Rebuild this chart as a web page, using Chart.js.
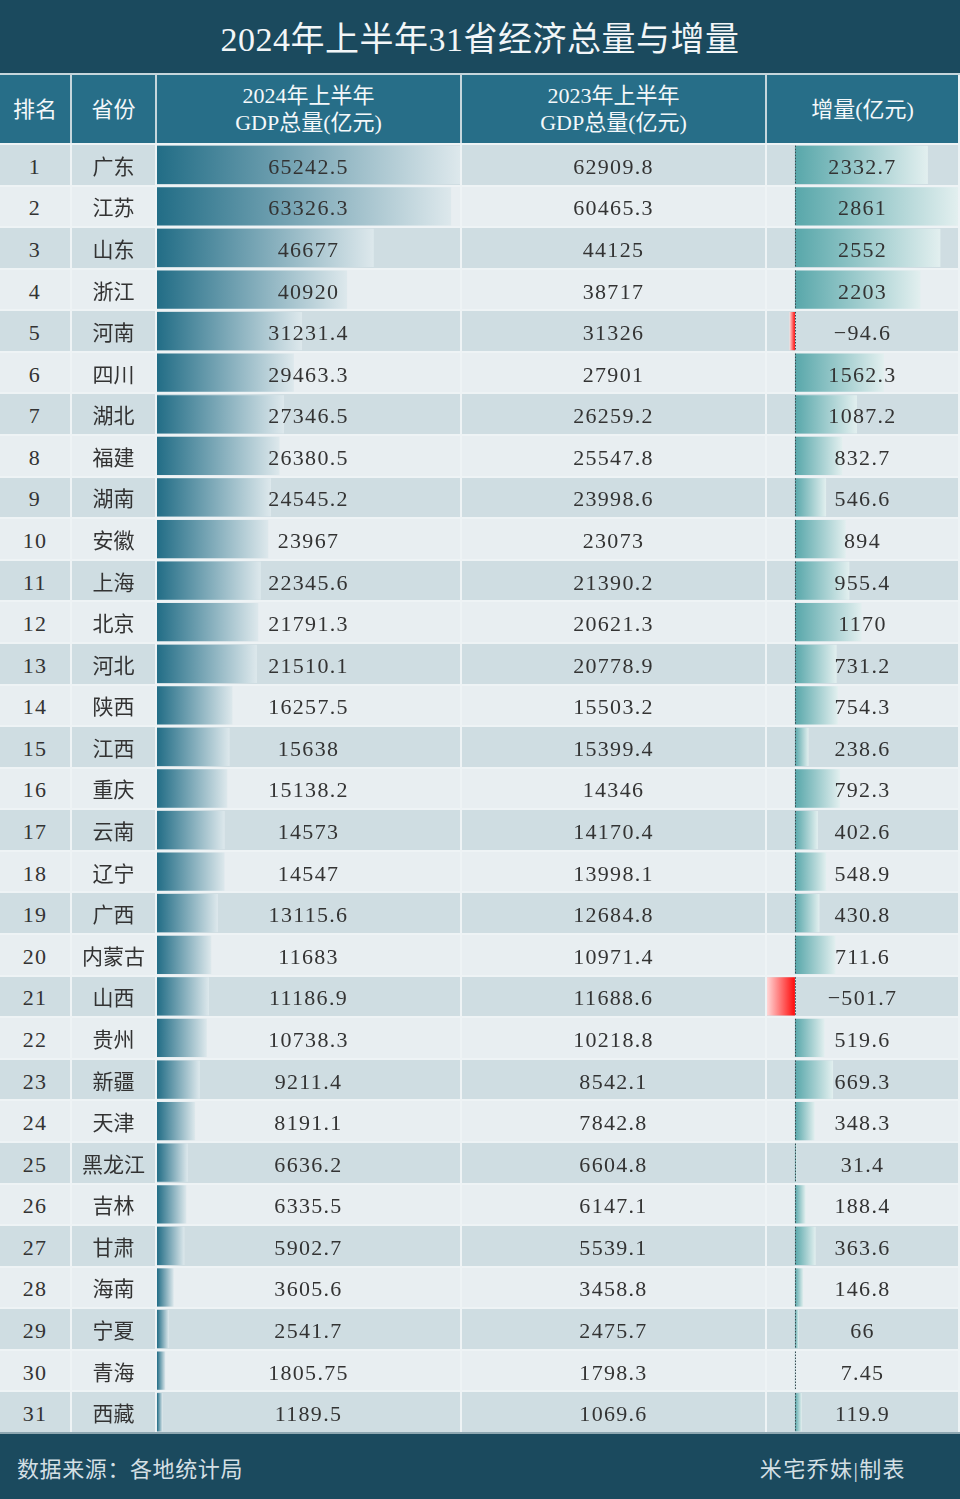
<!DOCTYPE html>
<html>
<head>
<meta charset="utf-8">
<script src="https://cdn.jsdelivr.net/npm/chart.js@4.4.1/dist/chart.umd.min.js"></script>
<style>
  html, body { margin: 0; padding: 0; background: #ffffff; }
  #wrap { position: relative; width: 960px; height: 1499px; background: #eef3f5; overflow: hidden;
          font-family: "Liberation Serif", "Noto Sans CJK SC", serif; }
  #title { position: absolute; left: 0; top: 0; width: 960px; height: 73px; background: #1b4a5e;
           color: #f2f6f8; font-size: 34px; line-height: 80px; text-align: center; letter-spacing: 0.5px; }
  #sep { position: absolute; left: 0; top: 73px; width: 960px; height: 2px; background: #c6d6dc; }
  #head { position: absolute; left: 0; top: 75px; width: 958px; height: 68px; display: grid;
          grid-template-columns: 70px 83px 303px 303px 191px; column-gap: 2px; background: #c6d6dc; }
  #head div { background: #276e88; color: #f4f8fa; font-size: 22px; line-height: 27px;
              display: flex; align-items: center; justify-content: center; text-align: center; }
  #rows { position: absolute; left: 0; top: 145px; width: 958px; height: 1287px; display: grid;
          grid-template-columns: 70px 83px 303px 303px 191px; grid-template-rows: repeat(31, 1fr);
          column-gap: 2px; row-gap: 2px; }
  #rows .c { display: flex; align-items: center; justify-content: center; font-size: 21px; color: #333; }
  #rows .odd { background: #cfdde2; }
  #rows .even { background: #e8eef1; }
  #rows .c span { position: relative; z-index: 2; }
  #rows .num span { font-size: 22px; letter-spacing: 1.3px; top: 2px; }
  .bars { position: absolute; z-index: 1; }
  #footer { position: absolute; left: 0; top: 1432px; width: 960px; height: 67px; background: #1b4a5e;
            border-top: 2px solid #8ea7b1; box-sizing: border-box; color: #d3dfe4; font-size: 22px; }
  #src { position: absolute; left: 17px; top: 17px; letter-spacing: 0.6px; }
  #maker { position: absolute; right: 54px; top: 17px; letter-spacing: 1.4px; }
</style>
</head>
<body>
<div id="wrap">
  <div id="title">2024年上半年31省经济总量与增量</div>
  <div id="sep"></div>
  <div id="head">
    <div>排名</div>
    <div>省份</div>
    <div>2024年上半年<br>GDP总量(亿元)</div>
    <div>2023年上半年<br>GDP总量(亿元)</div>
    <div>增量(亿元)</div>
  </div>
  <div id="rows"></div>
  <div class="bars" style="left:157px; top:144px; width:303px; height:1289px;"><canvas id="gdpChart"></canvas></div>
  <div class="bars" style="left:767px; top:144px; width:191px; height:1289px;"><canvas id="incChart"></canvas></div>
  <div id="footer">
    <div id="src">数据来源：各地统计局</div>
    <div id="maker">米宅乔妹|制表</div>
  </div>
</div>
<script>
var provinces = ['广东', '江苏', '山东', '浙江', '河南', '四川', '湖北', '福建', '湖南', '安徽',
                 '上海', '北京', '河北', '陕西', '江西', '重庆', '云南', '辽宁', '广西', '内蒙古',
                 '山西', '贵州', '新疆', '天津', '黑龙江', '吉林', '甘肃', '海南', '宁夏', '青海', '西藏'];
var gdp2024 = [65242.5, 63326.3, 46677, 40920, 31231.4, 29463.3, 27346.5, 26380.5, 24545.2, 23967,
               22345.6, 21791.3, 21510.1, 16257.5, 15638, 15138.2, 14573, 14547, 13115.6, 11683,
               11186.9, 10738.3, 9211.4, 8191.1, 6636.2, 6335.5, 5902.7, 3605.6, 2541.7, 1805.75, 1189.5];
var gdp2023 = [62909.8, 60465.3, 44125, 38717, 31326, 27901, 26259.2, 25547.8, 23998.6, 23073,
               21390.2, 20621.3, 20778.9, 15503.2, 15399.4, 14346, 14170.4, 13998.1, 12684.8, 10971.4,
               11688.6, 10218.8, 8542.1, 7842.8, 6604.8, 6147.1, 5539.1, 3458.8, 2475.7, 1798.3, 1069.6];
var increase = [2332.7, 2861, 2552, 2203, -94.6, 1562.3, 1087.2, 832.7, 546.6, 894,
                955.4, 1170, 731.2, 754.3, 238.6, 792.3, 402.6, 548.9, 430.8, 711.6,
                -501.7, 519.6, 669.3, 348.3, 31.4, 188.4, 363.6, 146.8, 66, 7.45, 119.9];

// table cells (text sits above the bar canvases)
var rows = document.getElementById('rows');
provinces.forEach(function(p, i) {
    var cls = i % 2 === 0 ? 'odd' : 'even';
    [String(i + 1), p, String(gdp2024[i]), String(gdp2023[i]), String(increase[i])].forEach(function(t, j) {
        var d = document.createElement('div');
        d.className = 'c ' + cls + (j === 1 ? '' : ' num');
        var s = document.createElement('span');
        s.textContent = t.replace('-', '−');
        d.appendChild(s);
        rows.appendChild(d);
    });
});

/**
 * gradient running along each bar, from its base (value 0) to its end
 */
function barGradient(from, to) {
    return function(c) {
        var chart = c.chart;
        if (!chart.chartArea) return from;
        var xs = chart.scales.x;
        var x0 = xs.getPixelForValue(0);
        var x1 = xs.getPixelForValue(c.raw);
        if (Math.abs(x1 - x0) < 1) x1 = x0 + (c.raw < 0 ? -1 : 1);
        var g = chart.ctx.createLinearGradient(x0, 0, x1, 0);
        g.addColorStop(0, from);
        g.addColorStop(1, to);
        return g;
    };
}

function baseOptions(min, max) {
    return {
        indexAxis: 'y',
        responsive: true,
        maintainAspectRatio: false,
        animation: false,
        layout: { padding: 0 },
        plugins: { legend: { display: false }, tooltip: { enabled: false } },
        scales: {
            x: { type: 'linear', min: min, max: max, display: false },
            y: { type: 'category', display: false, offset: true }
        }
    };
}

new Chart(document.getElementById('gdpChart').getContext('2d'), {
    type: 'bar',
    data: {
        labels: provinces,
        datasets: [{
            data: gdp2024,
            backgroundColor: barGradient('#226d86', '#dde8ec'),
            borderWidth: 0,
            categoryPercentage: 1,
            barPercentage: 0.92
        }]
    },
    options: baseOptions(0, 65242.5)
});

// dotted zero line, drawn per row like the reference
var zeroLine = {
    id: 'zeroLine',
    afterDatasetsDraw: function(chart) {
        var ctx = chart.ctx;
        var x0 = Math.round(chart.scales.x.getPixelForValue(0)) + 0.5;
        ctx.save();
        ctx.strokeStyle = '#3a4a50';
        ctx.lineWidth = 1;
        ctx.setLineDash([1.5, 1.5]);
        chart.getDatasetMeta(0).data.forEach(function(bar) {
            ctx.beginPath();
            ctx.moveTo(x0, bar.y - bar.height / 2);
            ctx.lineTo(x0, bar.y + bar.height / 2);
            ctx.stroke();
        });
        ctx.restore();
    }
};

new Chart(document.getElementById('incChart').getContext('2d'), {
    type: 'bar',
    data: {
        labels: provinces,
        datasets: [{
            data: increase,
            backgroundColor: function(c) {
                return c.raw < 0 ? barGradient('#ff0b0b', '#ffdcdc')(c) : barGradient('#58a7aa', '#e2efef')(c);
            },
            borderWidth: 0,
            categoryPercentage: 1,
            barPercentage: 0.92
        }]
    },
    options: baseOptions(-490, 2861),
    plugins: [zeroLine]
});
</script>
</body>
</html>
